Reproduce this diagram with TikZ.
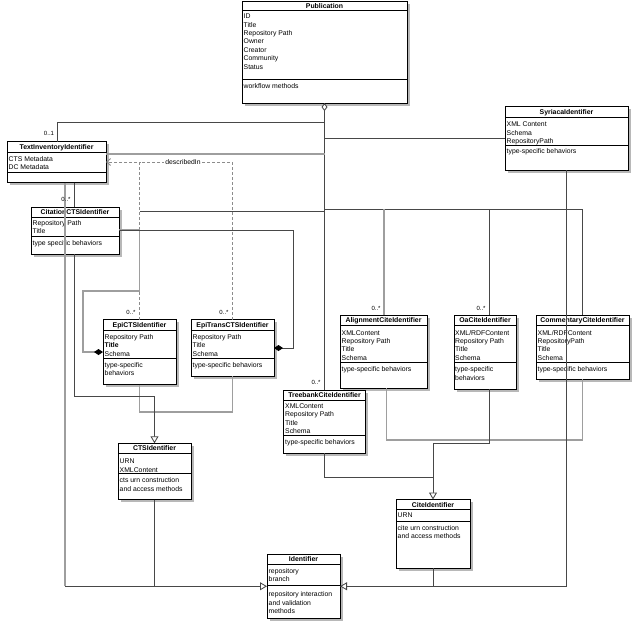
\documentclass[tikz,border=0pt]{standalone}
\usepackage{fontspec}
\setmainfont{Liberation Sans}
\usetikzlibrary{arrows.meta}
\newcommand\umlstrut{\rule{0pt}{6pt}}
% name, x1, y1, x2, y2, divider1, divider2, title
\newcommand\umlbox[8]{%
  \fill[black!28] ({#2+2.5},{#3+2.5}) rectangle ({#4+2.5},{#5+2.5});
  \node[cls, minimum width={(#4-#2)*1pt}, minimum height={(#5-#3)*1pt}, anchor=north west] (#1) at (#2,#3) {};
  \draw[divl] (#2,#6) -- (#4,#6);
  \draw[divl] (#2,#7) -- (#4,#7);
  \node[ttl] (#1-t) at ({(#2+#4)/2},{(#3+#6)/2+2.5}) {#8};
}
\begin{document}
\begin{tikzpicture}[x=1pt,y=-1pt,
  cls/.style={draw=black, line width=1pt, fill=white, inner sep=0pt, outer sep=0pt},
  divl/.style={draw=black, line width=1pt},
  ttl/.style={font=\fontsize{6.9}{8.4}\selectfont\bfseries, inner sep=0pt, anchor=base},
  txt/.style={font=\fontsize{6.85}{8.4}\selectfont, inner sep=0pt, anchor=north west, align=left},
  dk/.style={draw=black!72, line width=0.85pt},
  gr/.style={draw=black!38, line width=1.4pt},
  depl/.style={draw=black!45, line width=0.9pt, dash pattern=on 3pt off 2pt},
  mult/.style={font=\fontsize{6}{7}\selectfont, inner sep=0pt},
  lbl/.style={font=\fontsize{6.8}{8}\selectfont, inner sep=0pt, fill=white, inner xsep=1.5pt},
  gen/.style={-{Triangle[length=7pt, width=8pt, fill=white]}},
  comp/.style={-{Diamond[length=9pt, width=6pt, color=black, fill=black]}},
]
\useasboundingbox (0,0) rectangle (640,630);

% ---------- classes ----------
\umlbox{pub}{242}{1}{407}{103}{10.5}{79.5}{Publication}
\node[txt] (pub-a) at (243.5,12.5) {\umlstrut ID\\Title\\Repository Path\\Owner\\Creator\\Community\\Status};
\node[txt] (pub-o) at (243.5,82.5) {\umlstrut workflow methods};

\umlbox{tii}{7}{141.5}{106}{182.5}{152.5}{172.5}{TextInventoryIdentifier}
\node[txt] (tii-a) at (8.5,154.8) {\umlstrut CTS Metadata\\DC Metadata};

\umlbox{cit}{31}{207}{119}{254}{217}{236.5}{CitationCTSIdentifier}
\node[txt] (cit-a) at (32.5,219) {\umlstrut Repository Path\\Title};
\node[txt] (cit-o) at (32.5,239) {\umlstrut type specific behaviors};

\umlbox{syr}{505}{106}{628}{170}{117.5}{145.5}{SyriacaIdentifier}
\node[txt] (syr-a) at (506.5,120.5) {\umlstrut XML Content\\Schema\\RepositoryPath};
\node[txt] (syr-o) at (506.5,147.5) {\umlstrut type-specific behaviors};

\umlbox{epi}{103}{319.5}{176}{384.5}{330}{358}{EpiCTSIdentifier}
\node[txt] (epi-a) at (104.5,333.2) {\umlstrut Repository Path\\\textbf{Title}\\Schema};
\node[txt] (epi-o) at (104.5,361) {\umlstrut type-specific\\behaviors};

\umlbox{ept}{191}{319.5}{274}{376}{330}{358}{EpiTransCTSIdentifier}
\node[txt] (ept-a) at (192.5,333.2) {\umlstrut Repository Path\\Title\\Schema};
\node[txt] (ept-o) at (192.5,361) {\umlstrut type-specific behaviors};

\umlbox{aln}{340}{315}{427}{388}{325.7}{362.5}{AlignmentCiteIdentifier}
\node[txt] (aln-a) at (341.5,328.8) {\umlstrut XMLContent\\Repository Path\\Title\\Schema};
\node[txt] (aln-o) at (341.5,365.5) {\umlstrut type-specific behaviors};

\umlbox{oac}{454}{315}{516}{389}{325.7}{362.5}{OaCiteIdentifier}
\node[txt] (oac-a) at (455,328.8) {\umlstrut XML/RDFContent\\Repository Path\\Title\\Schema};
\node[txt] (oac-o) at (455,365.5) {\umlstrut type-specific\\behaviors};

\umlbox{com}{536}{315}{629}{379}{325.7}{362.5}{CommentaryCiteIdentifier}
\node[txt] (com-a) at (537.5,328.8) {\umlstrut XML/RDFContent\\RepositoryPath\\Title\\Schema};
\node[txt] (com-o) at (537.5,365.5) {\umlstrut type-specific behaviors};

\umlbox{trb}{283.5}{390}{365.5}{453}{400}{435.7}{TreebankCiteIdentifier}
\node[txt] (trb-a) at (285,402) {\umlstrut XMLContent\\Repository Path\\Title\\Schema};
\node[txt] (trb-o) at (285,438.2) {\umlstrut type-specific behaviors};

\umlbox{cts}{118}{443.3}{191}{499.5}{453.3}{473}{CTSIdentifier}
\node[txt] (cts-a) at (119.5,457.5) {\umlstrut URN\\XMLContent};
\node[txt] (cts-o) at (119.5,476.5) {\umlstrut cts urn construction\\and access methods};

\umlbox{cite}{396}{499.5}{470}{568}{509.5}{521.5}{CiteIdentifier}
\node[txt] (cite-a) at (397.5,511.5) {\umlstrut URN};
\node[txt] (cite-o) at (397.5,524) {\umlstrut cite urn construction\\and access methods};

\umlbox{idf}{267}{554}{340}{618.5}{564}{585}{Identifier}
\node[txt] (idf-a) at (268.5,567) {\umlstrut repository\\branch};
\node[txt] (idf-o) at (268.5,590.5) {\umlstrut repository interaction\\and validation\\methods};

% ---------- connectors ----------
% aggregation trunk from Publication
\draw[dk, {Diamond[open, length=8pt, width=6pt, fill=white]}-] (pub.south) -- (trb.north);
\draw[dk] (tii.north -| 57,0) |- (pub.south |- 0,122);
\draw[dk] (pub.south |- syr.west) -- (syr.west);
\draw[gr] (tii.east |- 0,154) -- (pub.south |- 0,154);
\draw[dk] (pub.south |- 0,211) -- (epi.north |- 0,211);
\draw[dk] (pub.south |- 0,209) -| (com.north);
\draw[gr] (aln.north -| 384,0) -- (384,209);
\draw[dk] (oac.north -| 489,0) -- (489,209);

% describedIn dependencies
\draw[depl, -{Straight Barb[length=4pt, width=7pt]}] (epi.north) |- (tii.east |- 0,162);
\draw[depl] (ept.north) |- (epi.north |- 0,162);
\node[lbl] (descr) at (183,162) {describedIn};

% TextInventory -> CitationCTS
\draw[dk] (tii.south -| 74,0) -- (cit.north -| 74,0);

% compositions
\draw[gr, comp] (cit.east |- 0,230) -- (139.5,230) -- (139.5,291) -- (83,291) -- (83,352) -- (epi.west |- 0,352);
\draw[dk, comp] (cit.east |- 0,230) -| (293,348) -- (ept.east |- 0,348);

% generalizations to CTSIdentifier
\draw[gr] (epi.south) -- (139.5,412) -- (232.5,412) -- (ept.south);
\draw[dk, gen] (cit.south -| 74,0) |- (154.5,396) -- (cts.north);

% generalizations to CiteIdentifier
\draw[gr] (aln.south -| 386.5,0) |- (com.south |- 0,440) -- (com.south);
\draw[dk, gen] (oac.south -| 489,0) |- (cite.north |- 0,443) -- (cite.north);
\draw[dk] (trb.south) |- (cite.north |- 0,477);

% generalizations to Identifier
\draw[gr] (tii.south -| 65,0) -- (65,586.25);
\draw[dk, gen] (65,586.25) -- (idf.west);
\draw[dk] (cts.south) -- (cts.south |- idf.west);
\draw[dk] (cite.south) -- (cite.south |- idf.east);
\draw[dk, gen] (syr.south) |- (idf.east);

% multiplicities
\node[mult] (m1) at (49,133) {0..1};
\node[mult] (m2) at (66,199.5) {0..*};
\node[mult] (m3) at (131,312) {0..*};
\node[mult] (m4) at (224,312) {0..*};
\node[mult] (m5) at (376,308) {0..*};
\node[mult] (m6) at (481,308) {0..*};
\node[mult] (m7) at (316,382) {0..*};
\end{tikzpicture}
\end{document}
